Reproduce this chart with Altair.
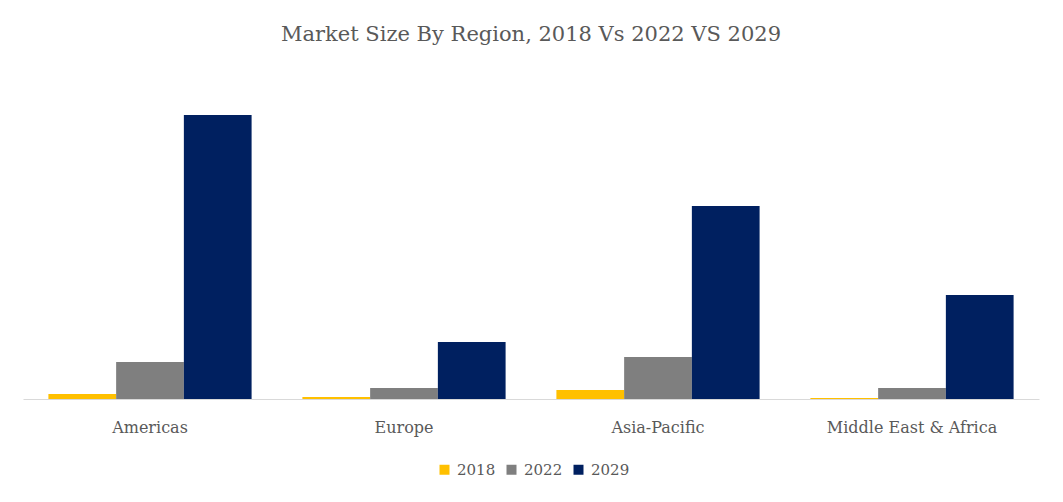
import altair as alt
import pandas as pd

regions = ["Americas", "Europe", "Asia-Pacific", "Middle East & Africa"]
years = ["2018", "2022", "2029"]
v2018 = [5, 2, 9, 1]
v2022 = [37, 11, 42, 11]
v2029 = [284, 57, 193, 104]
colors = ["#FFC000", "#7F7F7F", "#002060"]

rows = []
for yr, vals in zip(years, [v2018, v2022, v2029]):
    for r, v in zip(regions, vals):
        rows.append({"Region": r, "Year": yr, "Value": v})
df = pd.DataFrame(rows)

FONT = "DejaVu Serif"

chart = alt.Chart(df).mark_bar().encode(
    x=alt.X("Region:N", sort=regions, title=None,
            scale=alt.Scale(paddingInner=0.2, paddingOuter=0.1),
            axis=alt.Axis(labelAngle=0, ticks=False, domainColor="#D9D9D9",
                          domainWidth=1, labelPadding=20, labelFont=FONT,
                          labelFontSize=16, labelColor="#595959", grid=False)),
    xOffset=alt.XOffset("Year:N", sort=years),
    y=alt.Y("Value:Q", scale=alt.Scale(domain=[0, 300]), axis=None),
    color=alt.Color("Year:N", sort=years,
                    scale=alt.Scale(domain=years, range=colors),
                    legend=alt.Legend(title=None, orient="none", direction="horizontal",
                                      legendX=414, legendY=363, symbolType="square",
                                      symbolSize=100, symbolStrokeWidth=0,
                                      labelFont=FONT, labelFontSize=15,
                                      labelColor="#595959", columnPadding=8,
                                      labelOffset=5, symbolOpacity=1)),
).properties(
    width=1016,
    height=300,
    title=alt.TitleParams("Market Size By Region, 2018 Vs 2022 VS 2029",
                          font=FONT, fontSize=21, fontWeight="normal",
                          color="#595959", offset=54, anchor="middle"),
    autosize=alt.AutoSizeParams(type="none"),
    padding={"left": 15, "top": 91, "right": 10, "bottom": 95},
).configure(background="white").configure_view(stroke=None)

chart.save("out.html", embed_options={"renderer": "svg", "actions": False})
